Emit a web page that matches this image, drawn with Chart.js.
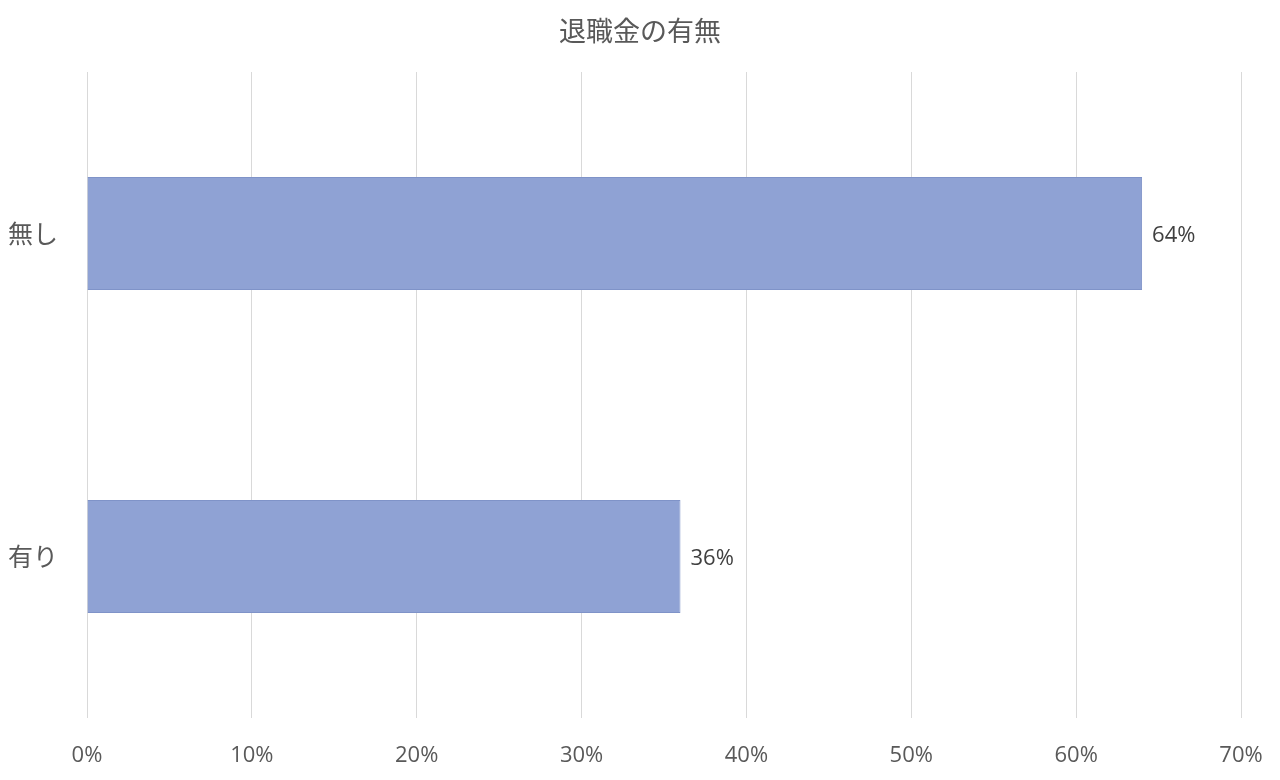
<!DOCTYPE html>
<html>
<head>
<meta charset="utf-8">
<script src="https://cdn.jsdelivr.net/npm/chart.js@4"></script>
<style>
  body { margin: 0; background: #fff; }
  #wrap { width: 1280px; height: 780px; }
</style>
</head>
<body>
<div id="wrap"><canvas id="myChart" width="1280" height="780"></canvas></div>
<script>
// data
const categories = ["無し", "有り"]
const values = [0.64, 0.36]
const chartTitle = "退職金の有無"
const xMax = 0.7
const xStep = 0.1

const fontFam = "'Noto Sans CJK JP', 'Open Sans', sans-serif"
const textColor = "#595959"

// labels at the end of each bar + title centred on the whole canvas
const barLabels = {
  id: "barLabels",
  afterDatasetsDraw(chart) {
    const ctx = chart.ctx
    const meta = chart.getDatasetMeta(0)
    ctx.save()
    ctx.font = "22px 'Open Sans', sans-serif"
    ctx.fillStyle = "#404040"
    ctx.textBaseline = "middle"
    ctx.textAlign = "left"
    meta.data.forEach((bar, i) => {
      ctx.fillText(Math.round(values[i] * 100) + "%", bar.x + 10, bar.y + 2)
    })
    ctx.font = "27px " + fontFam
    ctx.fillStyle = textColor
    ctx.textAlign = "center"
    ctx.fillText(chartTitle, chart.width / 2, 31)
    ctx.restore()
  }
}

var ctx = document.getElementById("myChart").getContext("2d")
var myChart = new Chart(ctx, {
  type: "bar",
  data: {
    labels: categories,
    datasets: [{
      data: values,
      backgroundColor: "#8FA2D4",
      borderColor: "#7F93C8",
      borderWidth: 1,
      barPercentage: 0.7,
      categoryPercentage: 0.5
    }]
  },
  options: {
    indexAxis: "y",
    responsive: false,
    animation: false,
    layout: { padding: { left: 8, right: 39, top: 72, bottom: 0 } },
    plugins: {
      legend: { display: false },
      tooltip: { enabled: false },
      title: { display: false }
    },
    scales: {
      x: {
        min: 0,
        max: xMax,
        ticks: {
          stepSize: xStep,
          color: textColor,
          font: { family: "'Open Sans', sans-serif", size: 22 },
          padding: 25,
          callback: v => Math.round(v * 100) + "%"
        },
        grid: { color: "#d9d9d9", lineWidth: 1, drawTicks: false },
        border: { display: false },
        afterFit(scale) {
          scale.height = 62
          scale.paddingLeft = 0
          scale.paddingRight = 0
        }
      },
      y: {
        ticks: {
          color: textColor,
          font: { family: fontFam, size: 25 },
          crossAlign: "far",
          padding: 8
        },
        grid: { display: false },
        border: { display: false },
        afterFit(scale) { scale.width = 79 }
      }
    }
  },
  plugins: [barLabels]
})
</script>
</body>
</html>
